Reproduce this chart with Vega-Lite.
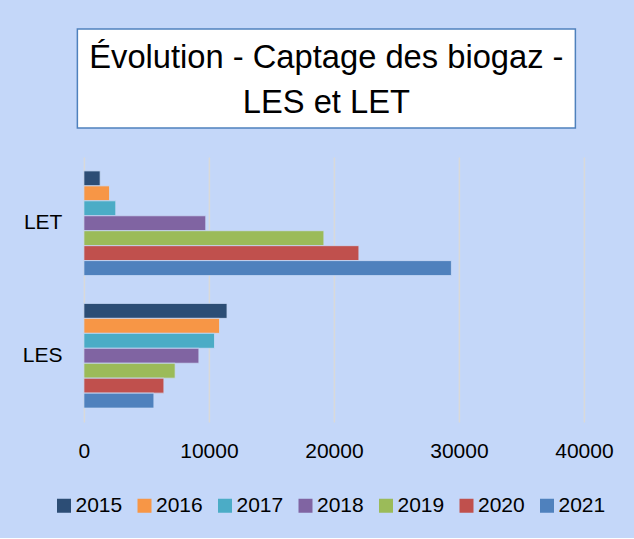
{
  "$schema": "https://vega.github.io/schema/vega-lite/v6.json",
  "background": "#c4d7f9",
  "padding": {"left": 22, "top": 28, "right": 20, "bottom": 22},
  "config": {"font": "Liberation Sans", "view": {"stroke": null}},
  "datasets": {
    "titre": [
      {"line": 1, "text": "Évolution - Captage des biogaz -"},
      {"line": 2, "text": "LES et LET"}
    ],
    "captage": [
      {"site": "LET", "year": "2015", "value": 1300},
      {"site": "LET", "year": "2016", "value": 2050},
      {"site": "LET", "year": "2017", "value": 2550},
      {"site": "LET", "year": "2018", "value": 9750},
      {"site": "LET", "year": "2019", "value": 19200},
      {"site": "LET", "year": "2020", "value": 22000},
      {"site": "LET", "year": "2021", "value": 29400},
      {"site": "LES", "year": "2015", "value": 11450},
      {"site": "LES", "year": "2016", "value": 10850},
      {"site": "LES", "year": "2017", "value": 10450},
      {"site": "LES", "year": "2018", "value": 9200},
      {"site": "LES", "year": "2019", "value": 7300},
      {"site": "LES", "year": "2020", "value": 6400},
      {"site": "LES", "year": "2021", "value": 5600}
    ]
  },
  "spacing": 28,
  "center": true,
  "vconcat": [
    {
      "width": 498,
      "height": 99,
      "data": {"name": "titre"},
      "view": {"fill": "white", "stroke": "#4f81bd", "strokeWidth": 1.5},
      "mark": {"type": "text", "fontSize": 32.7, "font": "Liberation Sans", "color": "black", "baseline": "middle", "dy": 2},
      "encoding": {
        "y": {
          "field": "line",
          "type": "ordinal",
          "scale": {"type": "point", "padding": 0.6},
          "axis": {"orient": "right", "domain": true, "domainColor": "transparent", "ticks": false, "labels": false, "title": null, "offset": 43.5, "grid": false}
        },
        "text": {"field": "text"}
      }
    },
    {
      "width": 500,
      "height": 265,
      "data": {"name": "captage"},
      "mark": {"type": "bar", "stroke": "#c9dbf7", "strokeWidth": 0.8},
      "encoding": {
        "y": {
          "field": "site",
          "type": "nominal",
          "sort": ["LET", "LES"],
          "scale": {"paddingInner": 0.21, "paddingOuter": 0.105},
          "axis": {"title": null, "ticks": false, "domain": false, "labelFontSize": 21, "labelPadding": 22, "labelColor": "black"}
        },
        "yOffset": {
          "field": "year",
          "type": "nominal",
          "sort": "ascending",
          "scale": {"paddingInner": 0, "paddingOuter": 0}
        },
        "x": {
          "field": "value",
          "type": "quantitative",
          "scale": {"domain": [0, 40000], "nice": false},
          "axis": {
            "values": [0, 10000, 20000, 30000, 40000],
            "format": "d",
            "title": null,
            "ticks": false,
            "domain": false,
            "labelFontSize": 21,
            "labelPadding": 18,
            "labelColor": "black",
            "labelFlush": false,
            "labelOverlap": false,
            "gridColor": "#d9d9d9",
            "gridWidth": 1.5
          }
        },
        "color": {
          "field": "year",
          "type": "nominal",
          "scale": {
            "domain": ["2015", "2016", "2017", "2018", "2019", "2020", "2021"],
            "range": ["#2c4d75", "#f79646", "#4bacc6", "#8064a2", "#9bbb59", "#c0504d", "#4f81bd"]
          },
          "legend": {
            "orient": "none",
            "legendX": -23.5,
            "legendY": 466,
            "direction": "horizontal",
            "title": null,
            "columns": 7,
            "symbolType": "square",
            "symbolSize": 196,
            "symbolStrokeWidth": 0,
            "labelFontSize": 21,
            "labelColor": "black",
            "labelOffset": 1,
            "columnPadding": 11.5
          }
        }
      }
    }
  ]
}
